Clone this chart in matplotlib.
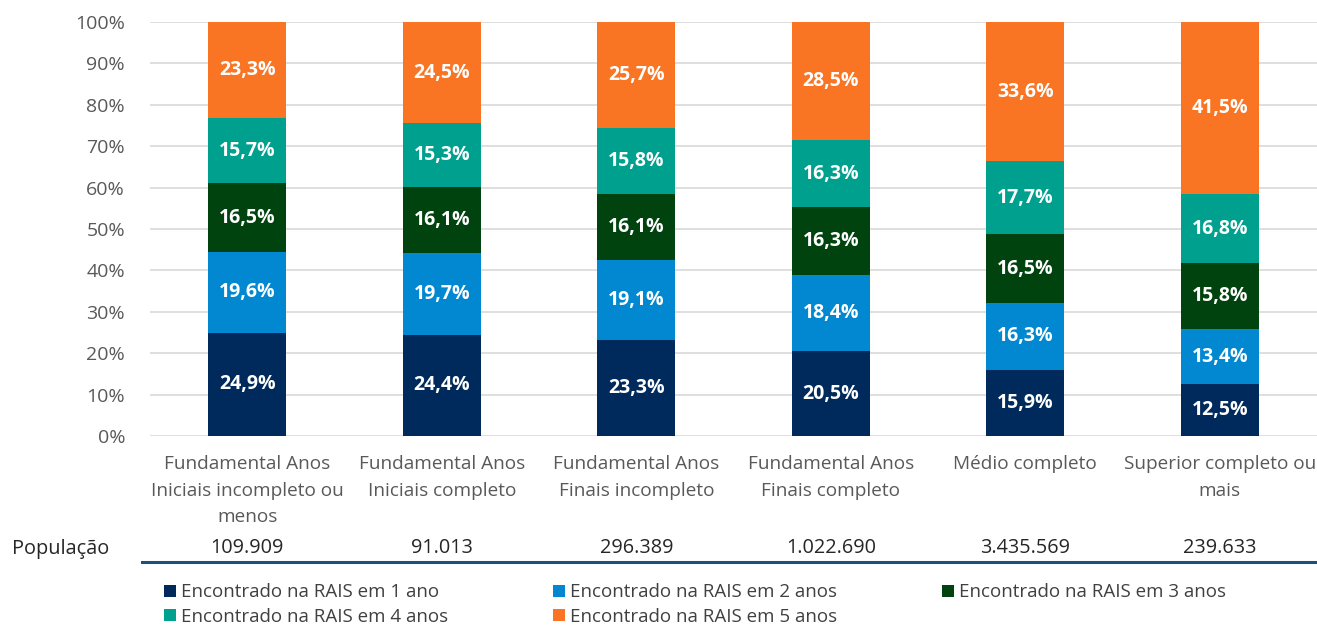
import matplotlib.pyplot as plt
from matplotlib.patches import Patch
from matplotlib.lines import Line2D
import matplotlib.transforms as mtransforms

plt.rcParams['font.family'] = ['Open Sans', 'DejaVu Sans']

categories = [
    "Fundamental Anos\nIniciais incompleto ou\nmenos",
    "Fundamental Anos\nIniciais completo",
    "Fundamental Anos\nFinais incompleto",
    "Fundamental Anos\nFinais completo",
    "Médio completo",
    "Superior completo ou\nmais",
]
populacao = ["109.909", "91.013", "296.389", "1.022.690", "3.435.569", "239.633"]

series_names = [
    "Encontrado na RAIS em 1 ano",
    "Encontrado na RAIS em 2 anos",
    "Encontrado na RAIS em 3 anos",
    "Encontrado na RAIS em 4 anos",
    "Encontrado na RAIS em 5 anos",
]
ano1 = [24.9, 24.4, 23.3, 20.5, 15.9, 12.5]
ano2 = [19.6, 19.7, 19.1, 18.4, 16.3, 13.4]
ano3 = [16.5, 16.1, 16.1, 16.3, 16.5, 15.8]
ano4 = [15.7, 15.3, 15.8, 16.3, 17.7, 16.8]
ano5 = [23.3, 24.5, 25.7, 28.5, 33.6, 41.5]
series = [ano1, ano2, ano3, ano4, ano5]
colors = ['#002A5C', '#0288D1', '#00430E', '#00A08F', '#F97523']

fig = plt.figure(figsize=(13.17, 6.25), dpi=100)
ax = fig.add_axes([0.1139, 0.3024, 0.8861, 0.6624])

x = list(range(len(categories)))
bottom = [0.0] * len(categories)
for vals, col in zip(series, colors):
    ax.bar(x, vals, bottom=bottom, width=0.4, color=col, zorder=3)
    for xi, b, v in zip(x, bottom, vals):
        ax.text(xi, b + v / 2, f"{v:.1f}%".replace('.', ','), ha='center', va='center',
                color='white', fontsize=14, fontweight='bold', zorder=4)
    bottom = [b + v for b, v in zip(bottom, vals)]

ax.set_xlim(-0.5, len(categories) - 0.5)
ax.set_ylim(0, 100)
ax.set_yticks(range(0, 101, 10))
ax.set_yticklabels([f"{t}%" for t in range(0, 101, 10)])
ax.yaxis.grid(True, color='#D9D9D9', linewidth=1.2, zorder=0)
ax.set_axisbelow(True)
for s in ax.spines.values():
    s.set_visible(False)
ax.tick_params(axis='y', length=0, pad=18, labelsize=14, labelcolor='#595959')
ax.set_xticks(x)
ax.set_xticklabels(categories, fontsize=13.7, color='#595959', linespacing=1.6)
ax.tick_params(axis='x', length=0, pad=14)

# população row
trans = mtransforms.blended_transform_factory(ax.transData, fig.transFigure)
for xi, p in zip(x, populacao):
    ax.text(xi, 1 - 548 / 625, p, transform=trans, ha='center', va='center',
            fontsize=14.3, color='#262626')
fig.text(12 / 1317, 1 - 549 / 625, "População", ha='left', va='center',
         fontsize=14.3, color='#262626')
fig.add_artist(Line2D([142 / 1317, 1.0], [1 - 562 / 625, 1 - 562 / 625],
                      color='#1F4E79', linewidth=2.2, transform=fig.transFigure))

handles = [Patch(facecolor=c) for c in colors]
order = [0, 3, 1, 4, 2]
fig.legend([handles[i] for i in order], [series_names[i] for i in order],
           ncol=3, loc='upper left', bbox_to_anchor=(155 / 1317, 1 - 574 / 625),
           frameon=False, fontsize=13.5, labelcolor='#404040',
           handlelength=0.6, handleheight=0.6, handletextpad=0.3,
           columnspacing=5.6, labelspacing=0.34, borderpad=0)

fig.savefig('out.png', dpi=100)
